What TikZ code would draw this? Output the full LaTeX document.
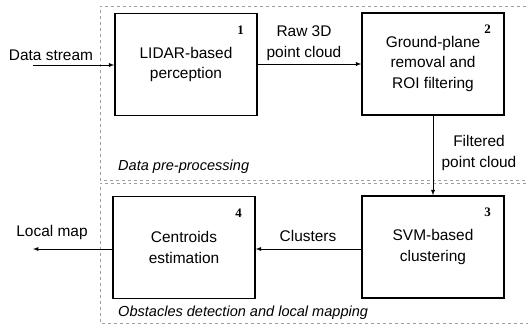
\documentclass[tikz,border=0pt]{standalone}
\usepackage{fontspec}
\setmainfont{Liberation Sans}
\newfontfamily\numfont{Liberation Serif}
\newcommand{\boxw}{142bp}
\newcommand{\boxh}{102bp}
\tikzset{
  block/.style={draw,line width=1.4bp,minimum width=\boxw,minimum height=\boxh,align=center,inner sep=0pt},
  num/.style={font=\numfont\bfseries\fontsize{13}{13}\selectfont,inner sep=0pt},
  txt/.style={align=center,inner sep=0pt},
  area/.style={draw=gray!75,dashed,line width=0.8bp},
  areatxt/.style={font=\itshape\fontsize{14.6}{17}\selectfont,anchor=west,inner sep=0pt},
  flow/.style={->,>=latex,line width=0.9bp}
}
\begin{document}
\begin{tikzpicture}[x=1bp,y=-1bp,font=\fontsize{15.5}{20.5}\selectfont]
        \useasboundingbox (0,0) rectangle (528,325);
        % dashed areas
        \draw[area] (532,6) -- (100,6) -- (100,180) -- (532,180);
        \draw[area] (532,183) -- (100,183) -- (100,323) -- (532,323);
        \node[areatxt] (pretxt) at (118,167) {Data pre-processing};
        \node[areatxt] (obstxt) at (118,313) {Obstacles detection and local mapping};
        % blocks
        \node[block] (lidar) at (186,64.5) {LIDAR-based\\ perception};
        \node[num] (n1) at ([xshift=-17bp,yshift=-17bp]lidar.north east) {1};
        \node[block] (ground) at (433,64) {Ground-plane\\ removal and\\ ROI filtering};
        \node[num] (n2) at ([xshift=-17bp,yshift=-17bp]ground.north east) {2};
        \node[block] (svm) at (433,247) {SVM-based\\ clustering};
        \node[num] (n3) at ([xshift=-17bp,yshift=-17bp]svm.north east) {3};
        \node[block] (centroids) at (184,247.5) {Centroids\\ estimation};
        \node[num] (n4) at ([xshift=-17bp,yshift=-17bp]centroids.north east) {4};
        % connectors
        \coordinate (in) at (33,65);
        \coordinate (out) at (33,249);
        \draw[flow] (in) -- (lidar.west |- in);
        \node[txt] (instream) at (51,55) {Data stream};
        \draw[flow] (lidar.east |- ground.west) -- (ground.west);
        \node[txt] (raw) at (304,43) {Raw 3D\\ point cloud};
        \draw[flow] (ground.south) -- (svm.north);
        \node[txt] (filt) at (479,153) {Filtered\\ point cloud};
        \draw[flow] (svm.west |- 0,249) -- (centroids.east |- 0,249);
        \node[txt] (clust) at (308,236) {Clusters};
        \draw[flow] (centroids.west |- out) -- (out);
        \node[txt] (map) at (52,232) {Local map};
\end{tikzpicture}
\end{document}
